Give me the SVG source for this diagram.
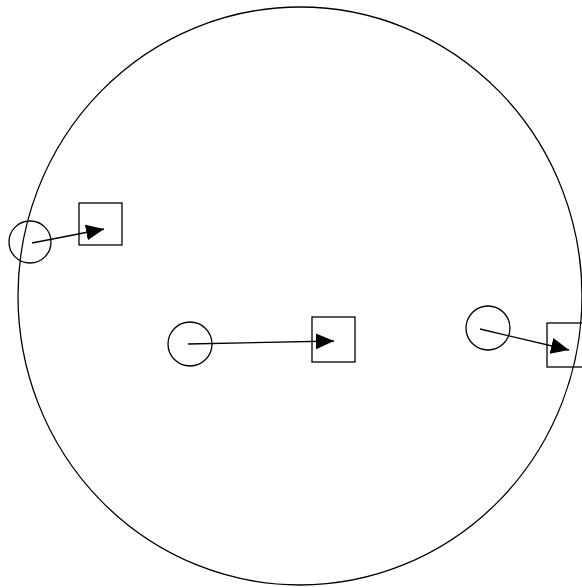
<svg xmlns="http://www.w3.org/2000/svg" width="582" height="587" viewBox="0 0 582 587">
<style>
.s{fill:none;stroke:#000;stroke-width:1.3}
.c{stroke:#000;stroke-width:1.3;fill:none}
</style>
<defs>
<marker id="ah" markerUnits="userSpaceOnUse" markerWidth="20" markerHeight="18" refX="18" refY="8" orient="auto">
<path d="M0,0 L18,8 L0,16 Z" fill="#000"/>
</marker>
</defs>
<rect width="582" height="587" fill="#fff"/>
<g id="world"><ellipse class="s" cx="300" cy="296" rx="282" ry="289"/></g>
<g id="node-a-circle"><circle class="s" cx="30" cy="242" r="21"/></g>
<g id="node-a-square"><rect class="s" x="79" y="203" width="43" height="42"/></g>
<g id="node-b-circle"><circle class="s" cx="190" cy="344" r="22"/></g>
<g id="node-b-square"><rect class="s" x="312" y="317" width="43" height="45"/></g>
<g id="node-c-circle"><circle class="s" cx="488" cy="328" r="22"/></g>
<g id="node-c-square"><rect class="s" x="547" y="323" width="43" height="44"/></g>
<g id="connectors">
<line class="c" x1="32" y1="243" x2="104" y2="229" marker-end="url(#ah)"/>
<line class="c" x1="188" y1="344" x2="334" y2="341" marker-end="url(#ah)"/>
<line class="c" x1="480" y1="329" x2="569" y2="350" marker-end="url(#ah)"/>
</g>
</svg>
